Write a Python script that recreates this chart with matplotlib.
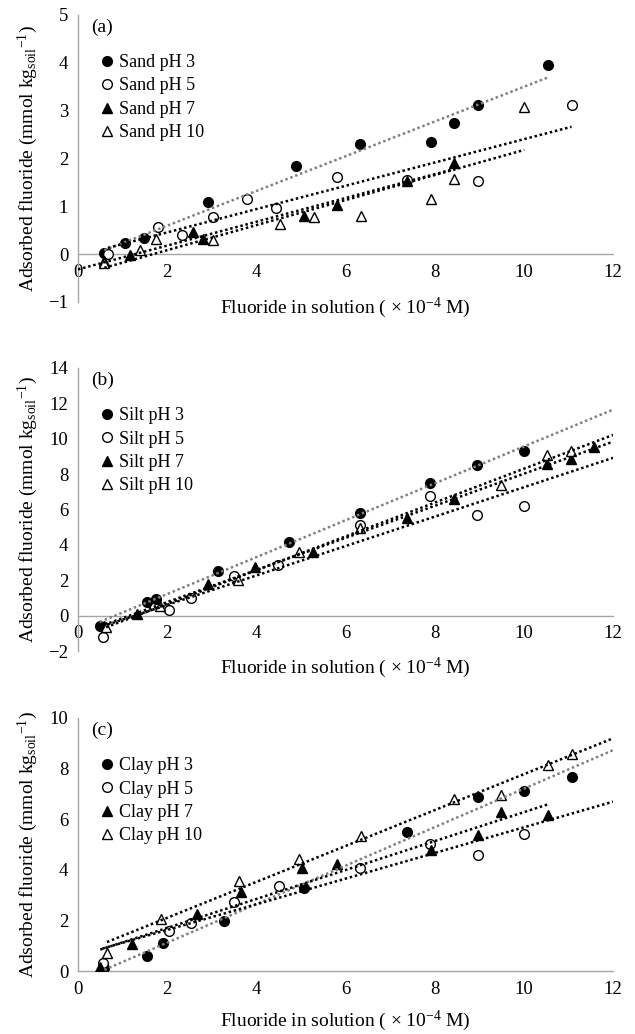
import numpy as np
import matplotlib
matplotlib.use('Agg')
import matplotlib.pyplot as plt

plt.rcParams['font.family'] = ['Liberation Serif', 'DejaVu Serif']
plt.rcParams['mathtext.fontset'] = 'custom'
plt.rcParams['mathtext.rm'] = 'Liberation Serif'
plt.rcParams['mathtext.it'] = 'Liberation Serif:italic'
plt.rcParams['mathtext.bf'] = 'Liberation Serif:bold'
plt.rcParams['mathtext.default'] = 'regular'

ph_labels = ['pH 3', 'pH 5', 'pH 7', 'pH 10']

# (a) sand
sand_x_ph3 = [0.59, 1.06, 1.48, 2.91, 4.90, 6.33, 7.92, 8.43, 8.97, 10.55]
sand_y_ph3 = [0.02, 0.23, 0.33, 1.10, 1.84, 2.31, 2.34, 2.75, 3.11, 3.95]
sand_x_ph5 = [0.67, 1.79, 2.34, 3.03, 3.80, 4.43, 5.80, 7.39, 8.97, 11.07]
sand_y_ph5 = [0.00, 0.56, 0.40, 0.78, 1.15, 0.96, 1.62, 1.56, 1.54, 3.11]
sand_x_ph7 = [0.59, 1.16, 2.58, 2.81, 5.07, 5.80, 7.39, 8.43]
sand_y_ph7 = [-0.15, -0.01, 0.46, 0.32, 0.79, 1.03, 1.52, 1.91]
sand_x_ph10 = [0.59, 1.38, 1.74, 3.03, 4.54, 5.29, 6.34, 7.92, 8.44, 10.01]
sand_y_ph10 = [-0.19, 0.08, 0.31, 0.30, 0.63, 0.78, 0.79, 1.15, 1.57, 3.08]

# (b) silt
silt_x_ph3 = [0.49, 1.54, 1.74, 3.15, 4.74, 6.33, 7.90, 8.96, 10.01]
silt_y_ph3 = [-0.56, 0.79, 0.92, 2.51, 4.18, 5.80, 7.51, 8.52, 9.31]
silt_x_ph5 = [0.55, 2.05, 2.54, 3.50, 4.48, 6.33, 7.90, 8.96, 10.01]
silt_y_ph5 = [-1.23, 0.34, 0.98, 2.26, 2.87, 5.10, 6.76, 5.71, 6.21]
silt_x_ph7 = [0.59, 1.32, 2.91, 3.97, 5.27, 7.37, 8.44, 10.52, 11.05, 11.58]
silt_y_ph7 = [-0.61, 0.08, 1.78, 2.74, 3.60, 5.54, 6.57, 8.58, 8.83, 9.56]
silt_x_ph10 = [0.63, 1.85, 3.58, 4.96, 6.33, 9.48, 10.52, 11.05]
silt_y_ph10 = [-0.65, 0.54, 1.99, 3.60, 4.94, 7.39, 9.08, 9.31]

# (c) clay
clay_x_ph3 = [0.59, 1.54, 1.91, 3.27, 5.07, 7.39, 8.97, 10.01, 11.07]
clay_y_ph3 = [0.11, 0.61, 1.12, 1.99, 3.30, 5.50, 6.88, 7.11, 7.66]
clay_x_ph5 = [0.55, 2.05, 2.54, 3.50, 4.50, 6.33, 7.90, 8.97, 10.01]
clay_y_ph5 = [0.33, 1.59, 1.89, 2.71, 3.34, 4.07, 5.02, 4.60, 5.43]
clay_x_ph7 = [0.50, 1.22, 2.66, 3.66, 5.02, 5.81, 7.92, 8.97, 9.49, 10.55]
clay_y_ph7 = [0.15, 1.06, 2.25, 3.12, 4.07, 4.24, 4.80, 5.36, 6.27, 6.18]
clay_x_ph10 = [0.65, 1.87, 3.60, 4.96, 6.34, 8.44, 9.48, 10.55, 11.07]
clay_y_ph10 = [0.70, 2.07, 3.54, 4.44, 5.35, 6.78, 6.96, 8.16, 8.56]

xticks = [0, 2, 4, 6, 8, 10, 12]

markers = ['o', 'o', '^', '^']
faces = ['black', 'white', 'black', 'white']
trend_colors = ['#808080', 'black', 'black', 'black']
axis_gray = '#a6a6a6'

fig = plt.figure(figsize=(6.35, 10.34), dpi=100)

W, H = 635.0, 1034.0
left_px, right_px = 78, 613


def make_axes(top_px, bottom_px):
    return fig.add_axes([left_px / W, 1 - bottom_px / H,
                         (right_px - left_px) / W, (bottom_px - top_px) / H])


def panel(ax, soil, tag, xs, ys, fit_from, fit_to, ylim, ystep,
          h_px, xlabel_y):
    # trendlines (least-squares, like Excel), drawn over the markers
    for i in range(4):
        x = np.array(xs[i])
        y = np.array(ys[i])
        k, b = np.polyfit(x, y, 1)
        lo = x.min() if fit_from[i] is None else fit_from[i]
        hi = x.max() if fit_to[i] is None else fit_to[i]
        xx = np.array([lo, hi])
        ax.plot(xx, k * xx + b, color=trend_colors[i], lw=1.8,
                linestyle=(0, (1, 1.1)), dash_capstyle='butt', zorder=4)
    for i in range(4):
        ax.plot(xs[i], ys[i], linestyle='none', marker=markers[i], ms=7,
                mfc=faces[i], mec='black', mew=1.0,
                label=soil + ' ' + ph_labels[i], zorder=3)

    ax.set_xlim(0, 12)
    ax.set_ylim(*ylim)
    ax.set_xticks(xticks)
    ax.set_yticks(np.arange(ylim[0], ylim[1] + 0.1, ystep))
    ax.tick_params(length=0, pad=7, labelsize=13.5)
    for s in ['top', 'right']:
        ax.spines[s].set_visible(False)
    ax.spines['bottom'].set_position(('data', 0))
    for s in ['left', 'bottom']:
        ax.spines[s].set_color(axis_gray)
        ax.spines[s].set_linewidth(1.0)

    ax.text(0.024, 1 - 12 / h_px, tag, transform=ax.transAxes,
            va='center', ha='left', fontsize=14)
    ax.legend(loc='upper left', bbox_to_anchor=(0.041, 1 - 39 / h_px),
              frameon=False, fontsize=13, handlelength=0.8,
              handletextpad=0.25, labelspacing=0.36, borderpad=0,
              borderaxespad=0)
    ax.text(0.5, xlabel_y, 'Fluoride in solution ( \u00d7 10$^{-4}$ M)',
            transform=ax.transAxes, ha='center', va='center', fontsize=14)
    pos = ax.get_position()
    fig.text(28 / W, pos.y0 + pos.height / 2,
             'Adsorbed fluoride (mmol kg$_{soil}{}^{-1}$)',
             rotation=90, ha='center', va='center', fontsize=14)


ax1 = make_axes(15, 302)
panel(ax1, 'Sand', '(a)',
      [sand_x_ph3, sand_x_ph5, sand_x_ph7, sand_x_ph10],
      [sand_y_ph3, sand_y_ph5, sand_y_ph7, sand_y_ph10],
      [None, None, 0, None], [None, None, None, None],
      (-1, 5), 1, 287, -0.021)

ax2 = make_axes(368, 651)
panel(ax2, 'Silt', '(b)',
      [silt_x_ph3, silt_x_ph5, silt_x_ph7, silt_x_ph10],
      [silt_y_ph3, silt_y_ph5, silt_y_ph7, silt_y_ph10],
      [None, None, None, None], [12, 12, 12, 12],
      (-2, 14), 2, 283, -0.060)

ax3 = make_axes(718, 971)
panel(ax3, 'Clay', '(c)',
      [clay_x_ph3, clay_x_ph5, clay_x_ph7, clay_x_ph10],
      [clay_y_ph3, clay_y_ph5, clay_y_ph7, clay_y_ph10],
      [None, None, None, None], [12, 12, None, 12],
      (0, 10), 2, 253, -0.198)

fig.savefig('out.png', dpi=100)
